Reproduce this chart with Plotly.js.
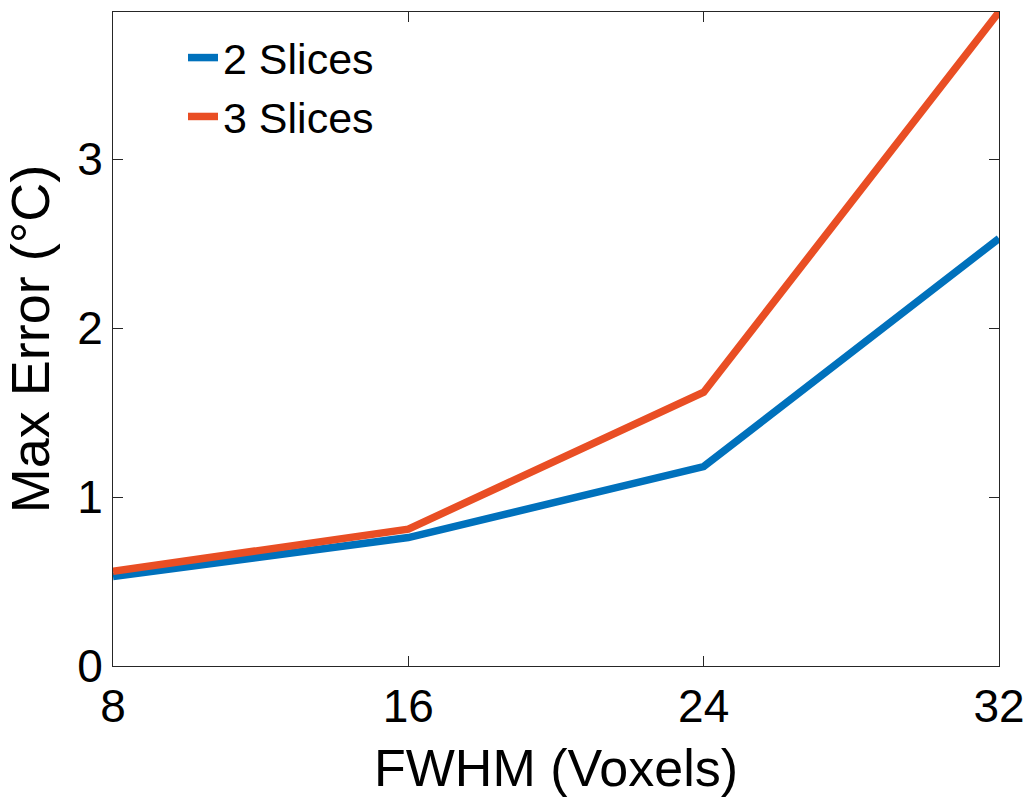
<!DOCTYPE html>
<html>
<head>
<meta charset="utf-8">
<script src="https://cdn.plot.ly/plotly-3.0.1.min.js"></script>
<style>html,body{margin:0;padding:0;background:#fff;}#chart{width:1029px;height:806px;}</style>
</head>
<body>
<div id="chart"></div>
<script>
const fwhm = [8, 16, 24, 32];
const slices2 = [0.53, 0.76, 1.18, 2.53];
const slices3 = [0.56, 0.81, 1.62, 3.87];
const seriesNames = ["2 Slices", "3 Slices"];
const xTicks = [8, 16, 24, 32];
const yTicks = [0, 1, 2, 3];

const font = "Liberation Sans, Arial, Helvetica, sans-serif";
const axisColor = "#262626";

const traces = [
  {x: fwhm, y: slices2, name: seriesNames[0], mode: "lines", line: {color: "#0071BC", width: 7.5}},
  {x: fwhm, y: slices3, name: seriesNames[1], mode: "lines", line: {color: "#E94E24", width: 7.5}}
];

const layout = {
  width: 1029, height: 806,
  margin: {l: 113, r: 30, t: 12, b: 140},
  paper_bgcolor: "#fff", plot_bgcolor: "#fff",
  font: {family: font, color: "#000"},
  showlegend: true,
  legend: {x: 0.079, y: 0.983, xanchor: "left", yanchor: "top", font: {size: 43, family: font, color: "#000"},
           bgcolor: "rgba(0,0,0,0)", tracegroupgap: 0},
  xaxis: {
    range: [8, 32], tickvals: xTicks, ticktext: xTicks.map(String),
    ticks: "inside", ticklen: 10, tickwidth: 1, tickcolor: axisColor,
    showline: true, linecolor: axisColor, linewidth: 1, mirror: "ticks",
    showgrid: false, zeroline: false,
    tickfont: {size: 46, family: font, color: "#000"},
    title: {text: "FWHM (Voxels)", font: {size: 52, family: font, color: "#000"}, standoff: 18}
  },
  yaxis: {
    range: [0, 3.87], tickvals: yTicks, ticktext: yTicks.map(String),
    ticks: "inside", ticklen: 10, tickwidth: 1, tickcolor: axisColor,
    showline: true, linecolor: axisColor, linewidth: 1, mirror: "ticks",
    showgrid: false, zeroline: false,
    tickfont: {size: 46, family: font, color: "#000"},
    title: {text: "Max Error (°C)", font: {size: 54, family: font, color: "#000"}, standoff: 18}
  }
};

Plotly.newPlot("chart", traces, layout, {displayModeBar: false, staticPlot: true});
</script>
</body>
</html>
